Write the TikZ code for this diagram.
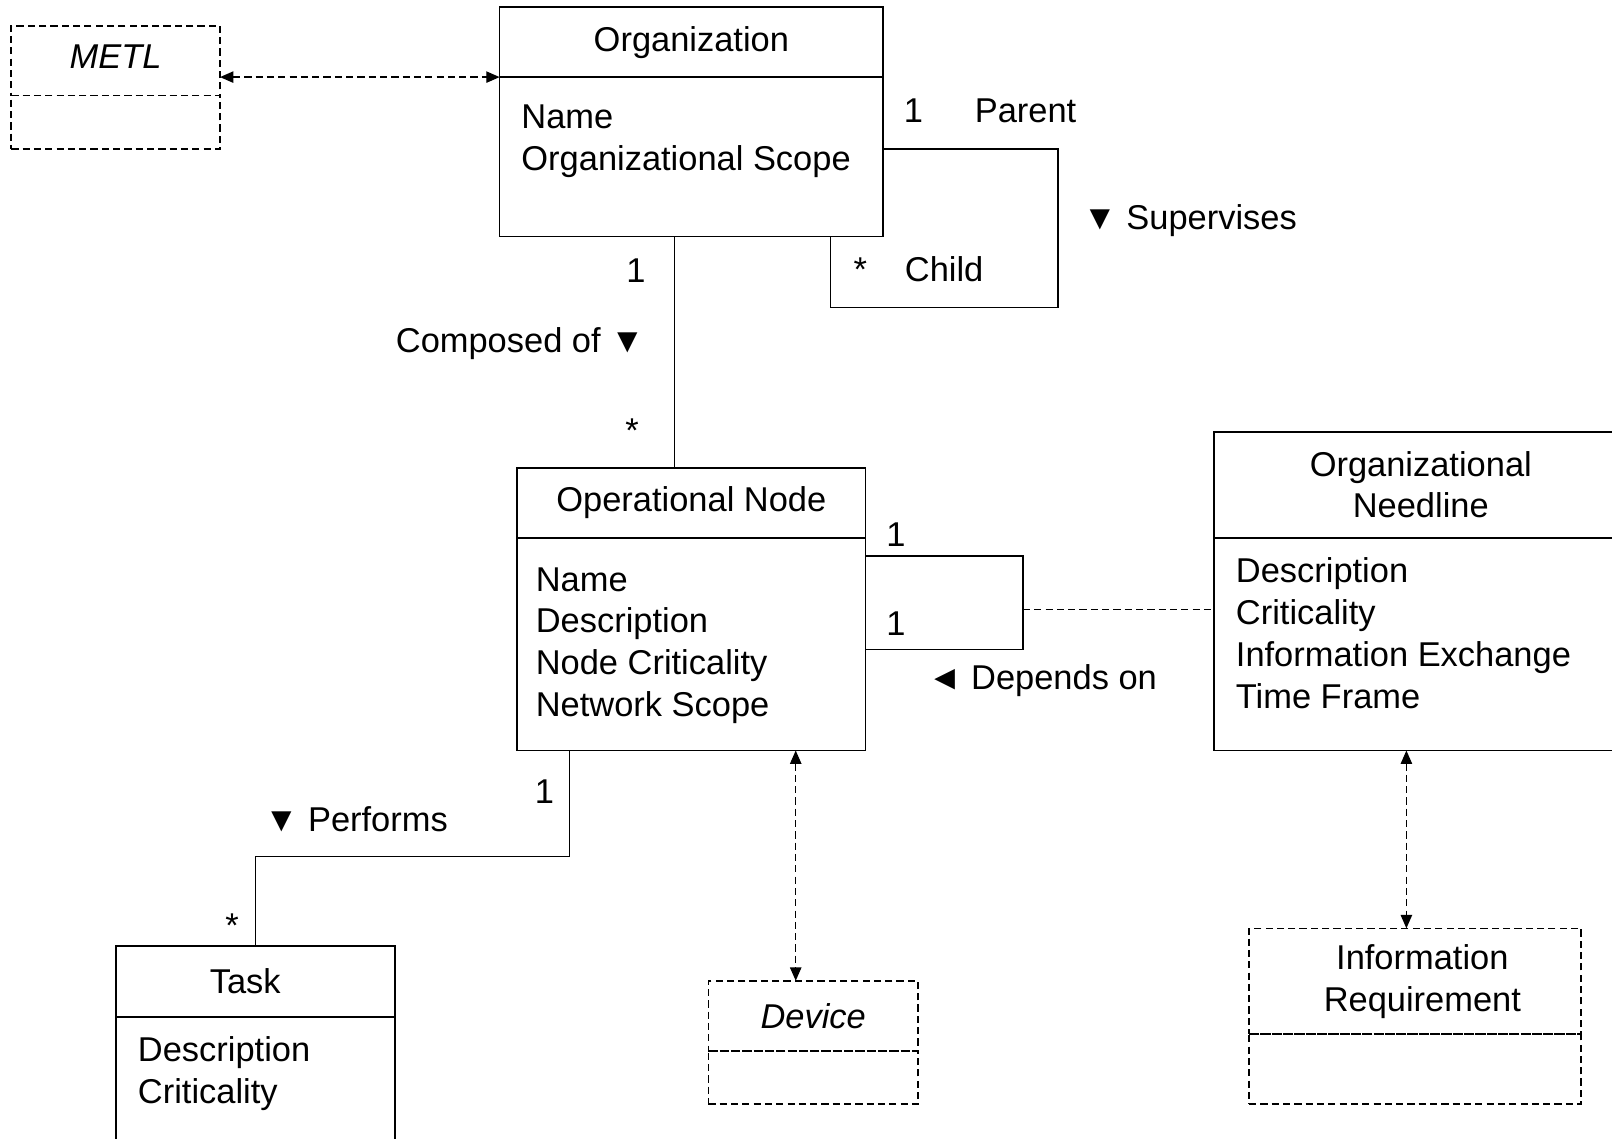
\documentclass[tikz,border=0pt]{standalone}
\usepackage{fontspec}
\setmainfont{Liberation Sans}
\usetikzlibrary{arrows.meta,positioning}

\def\fnt{\fontsize{33.5pt}{40.7pt}\selectfont}

\begin{document}
\begin{tikzpicture}[
    x=1pt, y=-1pt,
    cls/.style={
        draw,
        line width=1.6pt,
        inner sep=0pt,
        outer sep=0pt,
        align=center,
        font=\fnt,
    },
    dcls/.style={
        cls,
        dash pattern=on 7pt off 4pt,
    },
    attr/.style={
        anchor=base west, %base = last line
        align=left,
        inner sep=0pt,
        font=\fnt,
    },
    lbl/.style={anchor=base west, inner sep=0pt, font=\fnt},
    assoc/.style={line width=1.4pt},
    dep/.style={line width=1.4pt, dash pattern=on 7pt off 4pt,
        {Triangle[length=13pt,width=11pt]}-{Triangle[length=13pt,width=11pt]}},
    link/.style={line width=1.2pt, dash pattern=on 7pt off 4pt},
]

\useasboundingbox (0,0) rectangle (1568,1107);

% class boxes
\node[dcls,minimum width=203pt,minimum height=68pt,anchor=north west] (metl) at (11,25) {\itshape METL\rule[-8pt]{0pt}{8pt}};
\node[dcls,minimum width=203pt,minimum height=52pt,anchor=north] (metlA) at (metl.south) {};

\node[cls,minimum width=373pt,minimum height=68pt,anchor=north west] (org) at (486,7) {Organization};
\node[cls,minimum width=373pt,minimum height=155pt,anchor=north] (orgA) at (org.south) {};
\node[attr] (orgT) at ([shift={(21,90.7)}]orgA.north west) {Name\\Organizational Scope};

\node[cls,minimum width=339pt,minimum height=68pt,anchor=north west] (op) at (503,455) {Operational Node};
\node[cls,minimum width=339pt,minimum height=207pt,anchor=north] (opA) at (op.south) {};
\node[attr] (opT) at ([shift={(18,174.1)}]opA.north west) {Name\\Description\\Node Criticality\\Network Scope};

\node[cls,minimum width=402pt,minimum height=103pt,anchor=north west] (need) at (1181,420) {Organizational\\Needline};
\node[cls,minimum width=402pt,minimum height=207pt,anchor=north] (needA) at (need.south) {};
\node[attr] (needT) at ([shift={(21,166.1)}]needA.north west) {Description\\Criticality\\Information Exchange\\Time Frame};

\node[cls,minimum width=271pt,minimum height=69pt,anchor=north west] (task) at (113,920) {Task\hspace*{20pt}};
\node[cls,minimum width=271pt,minimum height=140pt,anchor=north] (taskA) at (task.south) {};
\node[attr] (taskT) at ([shift={(21,84.7)}]taskA.north west) {Description\\Criticality};

\node[dcls,minimum width=204pt,minimum height=68pt,anchor=north west] (dev) at (689,954) {\itshape Device};
\node[dcls,minimum width=204pt,minimum height=52pt,anchor=north] (devA) at (dev.south) {};

\node[dcls,minimum width=323pt,minimum height=103pt,anchor=north west] (ir) at (1215,903) {\hspace*{14pt}Information\\\hspace*{14pt}Requirement};
\node[dcls,minimum width=323pt,minimum height=68pt,anchor=north] (irA) at (ir.south) {};

% dependencies
\draw[dep] (org.south west -| metl.east) -- (org.south west);
\coordinate (s1) at ([xshift=-68pt]opA.south east);
\draw[dep] (s1) -- (s1 |- dev.north);
\coordinate (s2) at ([xshift=-14pt]needA.south);
\draw[dep] (s2) -- (s2 |- ir.north);

% associations
\draw[assoc] ([yshift=-70pt]orgA.north east) -| ++(170,154) -| ([xshift=-51pt]orgA.south east);
\draw[assoc] ([xshift=-16.5pt]orgA.south) -- ([xshift=-16.5pt]op.north);
\draw[assoc] ([yshift=-18pt]opA.north east) -- ++(153,0) coordinate (d1)
    -- ++(0,91) -- ([yshift=-109pt]opA.north east);
\coordinate (nl) at ([yshift=-70pt]needA.north west);
\draw[link] (nl -| d1) -- (nl);
\draw[assoc] ([xshift=51pt]opA.south west) -- ++(0,103) -| (task.north);

% labels
\node[lbl] (m1) at (879,119) {1};
\node[lbl] (r1) at (948,119) {Parent};
\node[lbl] (a1) at (1053,223) {▼ Supervises};
\node[lbl] (m2) at (830,274) {*};
\node[lbl] (r2) at (880,274) {Child};
\node[lbl] (m3) at (609,275) {1};
\node[lbl,anchor=base east] (a2) at (627,343) {Composed of ▼};
\node[lbl] (m4) at (608,430) {*};
\node[lbl] (m5) at (862,532) {1};
\node[lbl] (m6) at (862,618) {1};
\node[lbl] (a3) at (902,671) {◄ Depends on};
\node[lbl] (m7) at (520,782) {1};
\node[lbl] (a4) at (257,809) {▼ Performs};
\node[lbl] (m8) at (219,912) {*};

\end{tikzpicture}
\end{document}
